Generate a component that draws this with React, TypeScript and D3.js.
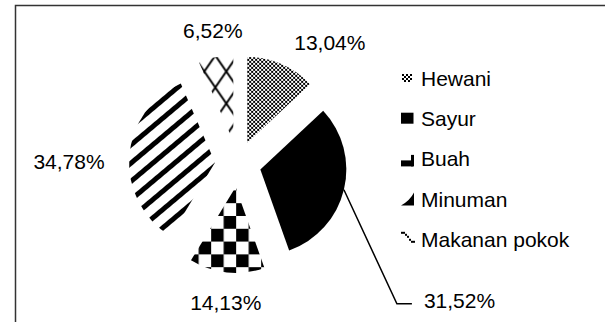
import React from "react";
import * as d3 from "d3";

const categories = ["Hewani", "Sayur", "Buah", "Minuman", "Makanan pokok"];
const values = [13.04, 31.52, 14.13, 34.78, 6.52];
const patternIds = ["pHewani", "pSayur", "pBuah", "pMinuman", "pMakanan"];

// layout (styling, not data)
const W = 605;
const H = 322;
const CX = 238;
const CY = 164;
const R = 86;
const EXPLODE = 23;
const FONT = "'Liberation Sans', Arial, Helvetica, sans-serif";
const FS = 21;
// label placement: polar offset (deg) from slice mid and distance from centre
const labelLayout = [
  { da: 13.7, r: 152 },
  null,
  { da: -0.8, r: 138.5 },
  { da: -3.2, r: 169 },
  { da: 1.1, r: 136 },
];
const LEGEND_X = 401;
const LEGEND_TEXT_X = 421;
const LEGEND_BASE = 86;
const LEGEND_STEP = 40.2;

const fmt = (v: number) => d3.format(".2f")(v).replace(".", ",") + "%";

function LegendMarker({ i, b }: { i: number; b: number }) {
  const x = LEGEND_X;
  if (i === 0)
    return <rect x={x + 1} y={b - 12} width={10} height={8} fill="url(#pHewaniL)" shapeRendering="crispEdges" />;
  if (i === 1) return <rect x={x} y={b - 13.5} width={12.5} height={11} fill="#000" />;
  if (i === 2)
    return (
      <g fill="#000">
        <rect x={x} y={b - 6} width={12} height={6} />
        <rect x={x + 10} y={b - 11.5} width={3} height={11.5} />
      </g>
    );
  if (i === 3)
    return (
      <path
        d={`M${x},${b - 1} L${x + 13},${b - 1} L${x + 13},${b - 14} Q${x + 9},${b - 6} ${x},${b - 1} Z`}
        fill="#000"
      />
    );
  return (
    <g fill="#000">
      <rect x={x} y={b - 15} width={4} height={2} />
      <rect x={x + 4} y={b - 13} width={2} height={2} />
      <rect x={x + 6} y={b - 11} width={2} height={2} />
      <rect x={x + 8} y={b - 8} width={2} height={2} />
      <rect x={x + 10} y={b - 6} width={4} height={2} />
    </g>
  );
}

export default function App() {
  const pie = d3
    .pie<number>()
    .sort(null)
    .value((d) => d)
    .startAngle(0)
    .endAngle(2 * Math.PI);
  const arcs = pie(values);
  const arcGen = d3.arc<d3.PieArcDatum<number>>().innerRadius(0).outerRadius(R);

  const dir = (a: number) => [Math.sin(a), -Math.cos(a)];

  const sayur = arcs[1];
  const sMid = (sayur.startAngle + sayur.endAngle) / 2;
  const [sdx, sdy] = dir(sMid);
  const arcPt = [CX + sdx * (EXPLODE + R), CY + sdy * (EXPLODE + R)];
  const elbow = [arcPt[0] + 53, arcPt[1] + 114];
  const lineEnd = [elbow[0] + 15, elbow[1]];

  return (
    <svg
      width={W}
      height={H}
      style={{ position: "absolute", left: 0, top: 0, background: "#fff" }}
      fontFamily={FONT}
    >
      <defs>
        <pattern id="pHewani" patternUnits="userSpaceOnUse" width={4} height={4} x={0} y={0}>
          <rect x={0} y={0} width={2} height={2} fill="#000" shapeRendering="crispEdges" />
          <rect x={2} y={2} width={2} height={2} fill="#000" shapeRendering="crispEdges" />
        </pattern>
        <pattern id="pHewaniL" patternUnits="userSpaceOnUse" width={4} height={4} x={0} y={0}>
          <rect x={0} y={0} width={2} height={2} fill="#000" shapeRendering="crispEdges" />
          <rect x={2} y={2} width={2} height={2} fill="#000" shapeRendering="crispEdges" />
        </pattern>
        <pattern id="pSayur" patternUnits="userSpaceOnUse" width={10} height={10}>
          <rect width={10} height={10} fill="#000" />
        </pattern>
        <pattern id="pBuah" patternUnits="userSpaceOnUse" width={25} height={25.6} x={225.5} y={195.5}>
          <rect x={0} y={0} width={12.5} height={12.8} fill="#000" />
          <rect x={12.5} y={12.8} width={12.5} height={12.8} fill="#000" />
        </pattern>
        <pattern
          id="pMinuman"
          patternUnits="userSpaceOnUse"
          width={14}
          height={14}
          patternTransform="rotate(-40)"
        >
          <rect x={0} y={0} width={14} height={5} fill="#000" />
        </pattern>
        <pattern id="pMakanan" patternUnits="userSpaceOnUse" width={22} height={32} x={202} y={58}>
          <path d="M0,16 L11,0 L22,16 L11,32 Z" fill="none" stroke="#000" strokeWidth={2} />
        </pattern>
      </defs>

      {/* frame */}
      <path d={`M15.5,${H} L15.5,5.5 L${W},5.5`} fill="none" stroke="#333" strokeWidth={1.5} />

      {arcs.map((a, i) => {
        const mid = (a.startAngle + a.endAngle) / 2;
        const [dx, dy] = dir(mid);
        const tx = CX + dx * EXPLODE;
        const ty = CY + dy * EXPLODE;
        return (
          <g key={categories[i]} transform={`translate(${tx},${ty})`}>
            <path d={arcGen(a) || ""} fill={`url(#${patternIds[i]})`} />
          </g>
        );
      })}

      {/* data labels */}
      {arcs.map((a, i) => {
        const lay = labelLayout[i];
        if (!lay) return null;
        const mid = (a.startAngle + a.endAngle) / 2 + (lay.da * Math.PI) / 180;
        const [dx, dy] = dir(mid);
        return (
          <text
            key={"l" + i}
            x={CX + dx * lay.r}
            y={CY + dy * lay.r}
            dy="0.36em"
            textAnchor="middle"
            fontSize={FS}
            fill="#000"
          >
            {fmt(values[i])}
          </text>
        );
      })}

      {/* leader label for Sayur */}
      <polyline
        points={`${arcPt[0]},${arcPt[1]} ${elbow[0]},${elbow[1]} ${lineEnd[0]},${lineEnd[1]}`}
        fill="none"
        stroke="#000"
        strokeWidth={1.5}
      />
      <text x={lineEnd[0] + 12} y={lineEnd[1] + 4} fontSize={FS} fill="#000">
        {fmt(values[1])}
      </text>

      {/* legend */}
      {categories.map((c, i) => {
        const b = LEGEND_BASE + i * LEGEND_STEP;
        return (
          <g key={"lg" + c}>
            <LegendMarker i={i} b={b} />
            <text x={LEGEND_TEXT_X} y={b} fontSize={FS} fill="#000">
              {c}
            </text>
          </g>
        );
      })}
    </svg>
  );
}
